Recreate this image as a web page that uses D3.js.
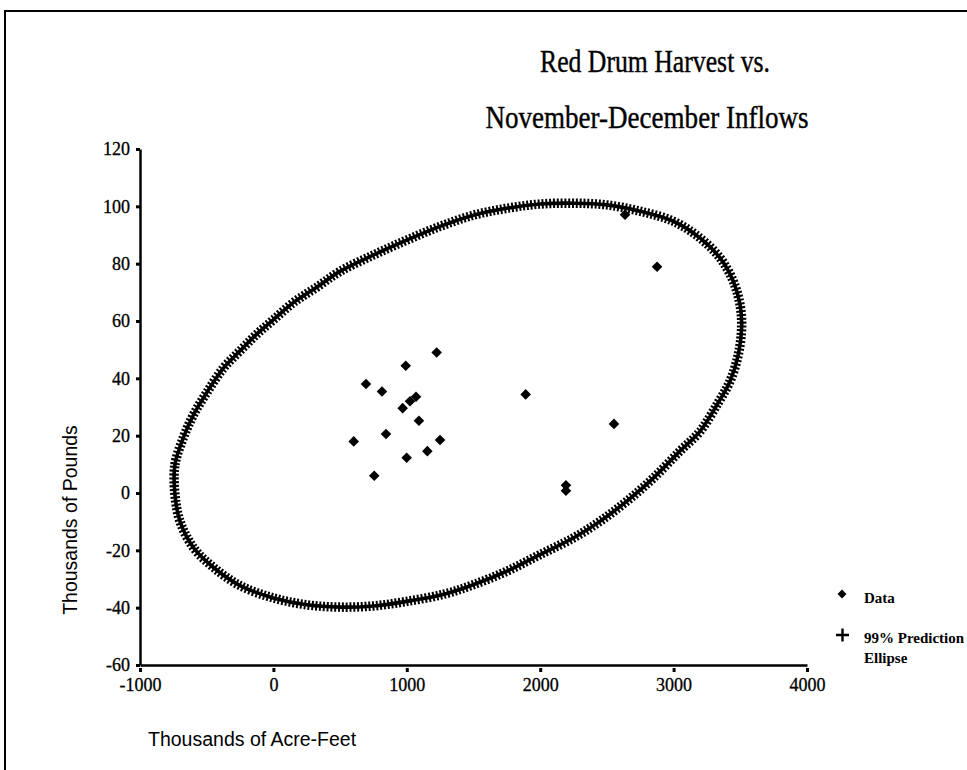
<!DOCTYPE html>
<html lang="en">
<head>
    <meta charset="UTF-8">
    <title>Red Drum Harvest vs. November-December Inflows</title>
    <script src="https://d3js.org/d3.v7.min.js"></script>
    <style>
        body { margin: 0; background: #fff; }
        svg { display: block; }
    </style>
</head>
<body>
<script>
    var SERIF = "'Liberation Serif', 'Times New Roman', serif";
    var SANS = "'Liberation Sans', Arial, sans-serif";

    // Observed years: inflow (thousands of acre-feet) and harvest (thousands of pounds)
    var inflow  = [2636, 2876, 2553, 2193, 2193, 1891, 1224, 992, 694, 814,
                   1069, 1024, 969, 1091, 844, 602, 1249, 1154, 999, 756];
    var harvest = [97.1, 78.9, 24.1, 2.7, 0.8, 34.4, 49.0, 44.4, 38.0, 35.4,
                   33.6, 32.0, 29.6, 25.2, 20.6, 18.0, 18.5, 14.6, 12.3, 6.0];

    // 99% prediction ellipse
    var ellipseX = [-738, -738, -675, -600, -500, -376, -250, -125, -1, 149,
                    325, 499, 749, 999, 1249, 1498, 1749, 1998, 2248, 2498,
                    2748, 2998, 3197, 3348, 3447, 3498, 3510, 3485, 3423, 3333,
                    3198, 3047, 2848, 2648, 2448, 2248, 1998, 1749, 1498, 1286,
                    999, 749, 499, 250, -1, -250, -451, -600, -700];
    var ellipseY = [-0.6, 9.9, 19.3, 27.2, 35.0, 43.5, 49.6, 55.4, 60.4, 66.4,
                    71.8, 77.3, 83.0, 88.2, 93.0, 96.9, 99.3, 100.8, 101.1, 100.5,
                    98.3, 94.8, 89.0, 82.0, 73.9, 65.7, 57.6, 48.3, 39.0, 31.4,
                    21.5, 14.6, 5.2, -2.9, -9.9, -15.7, -21.5, -27.3, -32.0, -35.2,
                    -37.8, -39.4, -39.8, -39.0, -36.6, -32.3, -25.9, -19.0, -9.9];

    var xTicks = [-1000, 0, 1000, 2000, 3000, 4000];
    var yTicks = [-60, -40, -20, 0, 20, 40, 60, 80, 100, 120];

    var w = 967;
    var h = 770;

    var xScale = d3.scaleLinear()
            .domain([-1000, 4000])
            .range([140, 807]);

    var yScale = d3.scaleLinear()
            .domain([-60, 120])
            .range([665, 149]);

    var svg = d3.select("body")
            .append("svg")
            .attr("width", w)
            .attr("height", h);

    // frame around the figure
    svg.append("path")
        .attr("d", "M5,771 L5,11 L968,11")
        .attr("fill", "none")
        .attr("stroke", "#000")
        .attr("stroke-width", 2);

    // title (narrow Times look)
    var titleLines = [
        { text: "Red Drum Harvest vs.", x: 655, y: 72, len: 230 },
        { text: "November-December Inflows", x: 647, y: 128, len: 323 }
    ];
    svg.selectAll(".title")
        .data(titleLines)
        .enter()
        .append("text")
        .attr("class", "title")
        .attr("x", function(d) { return d.x; })
        .attr("y", function(d) { return d.y; })
        .attr("text-anchor", "middle")
        .attr("textLength", function(d) { return d.len; })
        .attr("lengthAdjust", "spacingAndGlyphs")
        .style("font-family", SERIF)
        .style("font-size", "32px")
        .attr("fill", "#000")
        .attr("stroke", "#000")
        .attr("stroke-width", 0.4)
        .text(function(d) { return d.text; });

    // axes
    var yAxis = d3.axisLeft(yScale)
            .tickValues(yTicks)
            .tickSizeInner(4)
            .tickSizeOuter(0)
            .tickPadding(6)
            .tickFormat(function(d) { return String(d); });

    var xAxis = d3.axisBottom(xScale)
            .tickValues(xTicks)
            .tickSizeInner(7)
            .tickSizeOuter(0)
            .tickPadding(6)
            .tickFormat(function(d) { return String(d); });

    var gy = svg.append("g")
        .attr("transform", "translate(" + xScale(-1000) + ",0)")
        .call(yAxis);

    var gx = svg.append("g")
        .attr("transform", "translate(0," + yScale(-60) + ")")
        .call(xAxis);

    [gx, gy].forEach(function(g) {
        g.select(".domain").attr("stroke-width", 2.5);
        g.selectAll(".tick line").attr("stroke-width", 3);
        g.selectAll(".tick text")
            .style("font-family", SERIF)
            .style("font-size", "18px")
            .attr("fill", "#000")
            .attr("stroke", "#000")
            .attr("stroke-width", 0.3);
    });
    gx.selectAll(".tick line").attr("y1", 3);

    // axis titles
    svg.append("text")
        .style("font-family", SANS)
        .style("font-size", "19.5px")
        .attr("text-anchor", "middle")
        .attr("transform", "translate(77,520) rotate(-90)")
        .text("Thousands of Pounds");

    svg.append("text")
        .style("font-family", SANS)
        .style("font-size", "19.5px")
        .attr("x", 148)
        .attr("y", 746)
        .text("Thousands of Acre-Feet");

    // prediction ellipse drawn as a dense band of "+" markers
    var ellipsePts = ellipseX.map(function(x, i) { return [x, ellipseY[i]]; });
    var ellipseLine = d3.line()
            .x(function(d) { return xScale(d[0]); })
            .y(function(d) { return yScale(d[1]); })
            .curve(d3.curveCatmullRomClosed);

    svg.append("path")
        .datum(ellipsePts)
        .attr("d", ellipseLine)
        .attr("fill", "none")
        .attr("stroke", "#000")
        .attr("stroke-width", 9.5)
        .attr("stroke-dasharray", "2 1.8");

    svg.append("path")
        .datum(ellipsePts)
        .attr("d", ellipseLine)
        .attr("fill", "none")
        .attr("stroke", "#000")
        .attr("stroke-width", 3.6);

    // data points as diamonds
    var diamond = d3.symbol().type(d3.symbolSquare).size(56);

    svg.selectAll(".pt")
        .data(inflow)
        .enter()
        .append("path")
        .attr("class", "pt")
        .attr("d", diamond)
        .attr("transform", function(d, i) {
            return "translate(" + xScale(d) + "," + yScale(harvest[i]) + ") rotate(45)";
        })
        .attr("fill", "#000");

    // legend
    var legend = svg.append("g")
        .style("font-family", SERIF)
        .style("font-size", "15px")
        .style("font-weight", "bold");

    legend.append("path")
        .attr("d", d3.symbol().type(d3.symbolSquare).size(40))
        .attr("transform", "translate(842,594) rotate(45)")
        .attr("fill", "#000");
    legend.append("text").attr("x", 864).attr("y", 603).text("Data");

    legend.append("path")
        .attr("d", "M836,635 L849,635 M842.5,628.5 L842.5,641.5")
        .attr("stroke", "#000")
        .attr("stroke-width", 2.4);
    legend.append("text").attr("x", 864).attr("y", 643).text("99% Prediction");
    legend.append("text").attr("x", 864).attr("y", 663).text("Ellipse");
</script>
</body>
</html>
